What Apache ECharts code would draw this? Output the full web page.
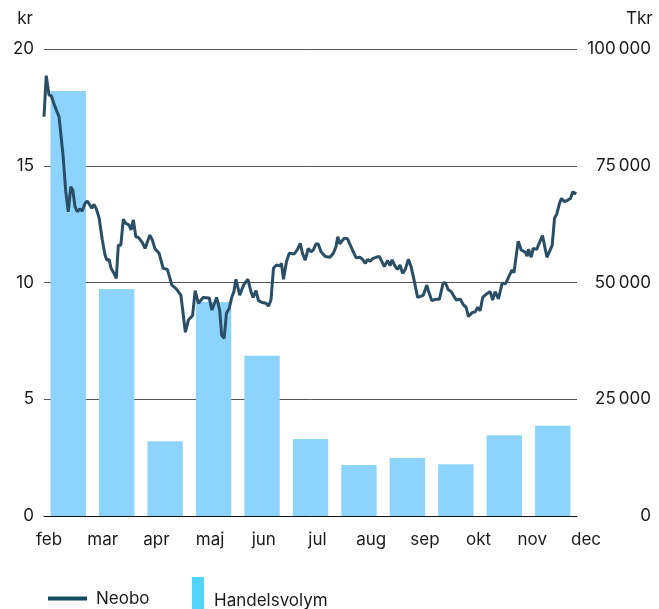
<!DOCTYPE html>
<html>
<head>
<meta charset="utf-8">
<script src="https://cdn.jsdelivr.net/npm/echarts@6/dist/echarts.min.js"></script>
<style>
  html, body { margin: 0; padding: 0; background: #fff; }
  #main { width: 659px; height: 609px; }
</style>
</head>
<body>
<div id="main"></div>
<script>
// month labels under the axis
var monthLabels = ['feb', 'mar', 'apr', 'maj', 'jun', 'jul', 'aug', 'sep', 'okt', 'nov', 'dec'];
// monthly trading volume (Tkr), one bar per month
var volumeMonths = ['feb', 'mar', 'apr', 'maj', 'jun', 'jul', 'aug', 'sep', 'okt', 'nov', 'dec'];
var volumeValues = [91000, 48600, 16000, 45800, 34300, 16500, 10900, 12400, 11100, 17300, 19300];

// Neobo share price (kr), trading day index and closing price
var priceDays = [
  0, 0.9, 2.0, 2.9, 4.4, 6.0, 7.6, 8.7, 9.7, 10.7, 11.5, 12.4, 13.3, 14.3, 15.3, 16.4, 17.3, 18.3, 19.1, 20.0,
  20.9, 22.0, 23.3, 24.4, 25.1, 26.0, 26.8, 28.0, 28.9, 29.7, 30.7, 31.7, 32.7, 34.0, 34.8, 35.7, 36.7, 37.7, 39.3, 40.4,
  42.3, 43.3, 44.3, 46.0, 47.6, 49.3, 51.1, 52.7, 54.7, 56.5, 57.7, 59.4, 60.4, 61.7, 63.6, 66.0, 67.1, 69.0, 70.2, 71.0,
  72.0, 72.9, 74.0, 75.1, 75.9, 76.7, 78.2, 79.8, 81.5, 82.7, 83.6, 84.7, 85.7, 87.3, 88.7, 89.7, 90.7, 91.7, 92.9, 94.3,
  94.9, 95.7, 96.9, 98.0, 100.0, 101.3, 102.4, 103.3, 104.4, 105.6, 106.7, 107.6, 108.7, 109.6, 110.7, 112.4, 114.3, 115.6, 116.7, 117.4,
  118.2, 120.0, 121.3, 122.0, 123.3, 124.7, 126.3, 127.3, 128.4, 129.3, 130.3, 131.3, 132.7, 134.0, 136.0, 137.3, 138.3, 139.1, 140.4, 141.3,
  142.3, 143.3, 144.4, 145.6, 146.7, 148.0, 149.3, 150.7, 151.6, 153.0, 153.7, 155.0, 156.4, 158.0, 159.5, 160.4, 161.5, 162.7, 164.7, 166.4,
  167.6, 168.7, 169.6, 171.1, 172.4, 173.3, 174.3, 175.3, 176.9, 178.3, 179.3, 180.3, 181.6, 183.1, 184.5, 186.0, 187.0, 187.8, 189.5, 190.7,
  192.3, 193.1, 193.6, 194.7, 195.5, 196.9, 197.7, 199.2, 201.0, 203.1, 204.0, 204.9, 206.0, 206.8, 208.0, 209.3, 210.4, 211.3, 212.7
];
var priceValues = [
  17.1, 18.86, 18.03, 18.0, 17.53, 17.1, 15.46, 13.89, 13.03, 14.1, 13.96, 13.25, 13.03, 13.15, 13.06, 13.39, 13.49, 13.32, 13.18, 13.35,
  13.15, 12.78, 11.82, 11.18, 10.96, 10.99, 10.61, 10.39, 10.18, 11.6, 11.6, 12.71, 12.53, 12.46, 12.25, 12.68, 11.96, 11.93, 11.71, 11.46,
  12.03, 11.82, 11.46, 11.25, 10.61, 10.56, 9.89, 9.75, 9.46, 7.87, 8.39, 8.59, 9.65, 9.11, 9.36, 9.34, 8.82, 9.36, 8.82, 7.75,
  7.61, 8.68, 8.89, 9.39, 9.61, 10.14, 9.46, 9.9, 10.14, 9.61, 9.36, 9.65, 9.22, 9.14, 9.11, 8.99, 9.25, 10.61, 10.75, 10.71,
  10.82, 10.14, 10.89, 11.25, 11.22, 11.42, 11.68, 11.25, 10.96, 11.46, 11.32, 11.39, 11.65, 11.65, 11.32, 11.11, 11.08, 11.25, 11.53, 11.96,
  11.66, 11.9, 11.87, 11.8, 11.39, 11.06, 11.08, 10.99, 10.82, 10.99, 10.91, 11.02, 11.08, 11.12, 10.68, 10.94, 10.72, 10.97, 10.68, 10.56,
  10.75, 10.39, 10.56, 10.99, 10.68, 10.05, 9.36, 9.42, 9.46, 9.89, 9.61, 9.22, 9.28, 9.28, 9.98, 9.99, 9.7, 9.61, 9.25, 9.28,
  9.04, 8.94, 8.54, 8.71, 8.75, 8.94, 8.79, 9.36, 9.51, 9.61, 9.25, 9.61, 9.3, 9.97, 9.95, 10.3, 10.54, 10.42, 11.77, 11.39,
  11.3, 11.13, 11.42, 11.08, 11.46, 11.42, 11.63, 12.01, 11.08, 11.6, 12.75, 12.93, 13.39, 13.6, 13.46, 13.53, 13.6, 13.89, 13.79
];

var priceData = priceDays.map(function (d, i) { return [d, priceValues[i]]; });

var fontFamily = 'Inter, Roboto, sans-serif';
var textColor = '#1a1a1a';

var chart = echarts.init(document.getElementById('main'), null, { renderer: 'canvas' });

chart.setOption({
    animation: false,
    textStyle: { fontFamily: fontFamily },
    grid: [
        { left: 44, right: 82, top: 49, bottom: 93 },
        { left: 49, right: 73, top: 515, bottom: 93 }
    ],
    legend: [{
        data: [{ name: 'Neobo', itemStyle: { color: '#134b5f' } }],
        icon: 'rect',
        itemWidth: 39,
        itemHeight: 4,
        padding: 0,
        left: 48,
        top: 590,
        textStyle: { fontSize: 17, color: textColor, fontFamily: fontFamily, padding: [0, 0, 0, 4] }
    }, {
        data: [{ name: 'Handelsvolym', itemStyle: { color: '#52d3fc' } }],
        icon: 'rect',
        itemWidth: 12,
        itemHeight: 34,
        padding: 0,
        left: 192,
        top: 577,
        // text sits lower than the middle of the tall swatch
        formatter: function (name) { return '\n' + name; },
        textStyle: { fontSize: 17, lineHeight: 14, color: textColor, fontFamily: fontFamily, padding: [0, 0, 0, 5] }
    }],
    xAxis: [{
        type: 'category',
        gridIndex: 0,
        data: volumeMonths,
        axisLine: { show: true, lineStyle: { color: '#111', width: 1 } },
        axisTick: { show: false },
        axisLabel: { show: false }
    }, {
        type: 'value',
        gridIndex: 0,
        min: 0,
        max: 213,
        show: false
    }, {
        type: 'category',
        gridIndex: 1,
        data: monthLabels,
        boundaryGap: false,
        axisLine: { show: false },
        axisTick: { show: false },
        axisLabel: { margin: 15, fontSize: 17, color: textColor, interval: 0 }
    }],
    yAxis: [{
        type: 'value',
        gridIndex: 0,
        min: 0,
        max: 20,
        interval: 5,
        name: 'kr',
        nameLocation: 'end',
        nameGap: 22,
        nameTextStyle: { fontSize: 17, color: textColor, align: 'right', padding: [0, 11, 0, 0] },
        axisLine: { show: false },
        axisTick: { show: false },
        axisLabel: { margin: 10, fontSize: 17, color: textColor },
        splitLine: { lineStyle: { color: '#555', width: 1 } }
    }, {
        type: 'value',
        gridIndex: 0,
        position: 'right',
        min: 0,
        max: 100000,
        interval: 25000,
        name: 'Tkr',
        nameLocation: 'end',
        nameGap: 22,
        nameTextStyle: { fontSize: 17, color: textColor, align: 'left', padding: [0, 0, 0, 49] },
        axisLine: { show: false },
        axisTick: { show: false },
        axisLabel: {
            margin: 74,
            align: 'right',
            fontSize: 17,
            color: textColor,
            formatter: function (v) {
                return String(v).replace(/\B(?=(\d{3})+(?!\d))/g, '\u2009');
            }
        },
        splitLine: { show: false }
    }, {
        type: 'value',
        gridIndex: 1,
        show: false
    }],
    series: [{
        name: 'Handelsvolym',
        type: 'bar',
        xAxisIndex: 0,
        yAxisIndex: 1,
        data: volumeValues,
        barCategoryGap: '27%',
        itemStyle: { color: '#8cd3fd' },
        z: 1
    }, {
        name: 'Neobo',
        type: 'line',
        xAxisIndex: 1,
        yAxisIndex: 0,
        data: priceData,
        showSymbol: false,
        lineStyle: { color: '#2a4e66', width: 3 },
        itemStyle: { color: '#2a4e66' },
        z: 3
    }]
});
</script>
</body>
</html>
